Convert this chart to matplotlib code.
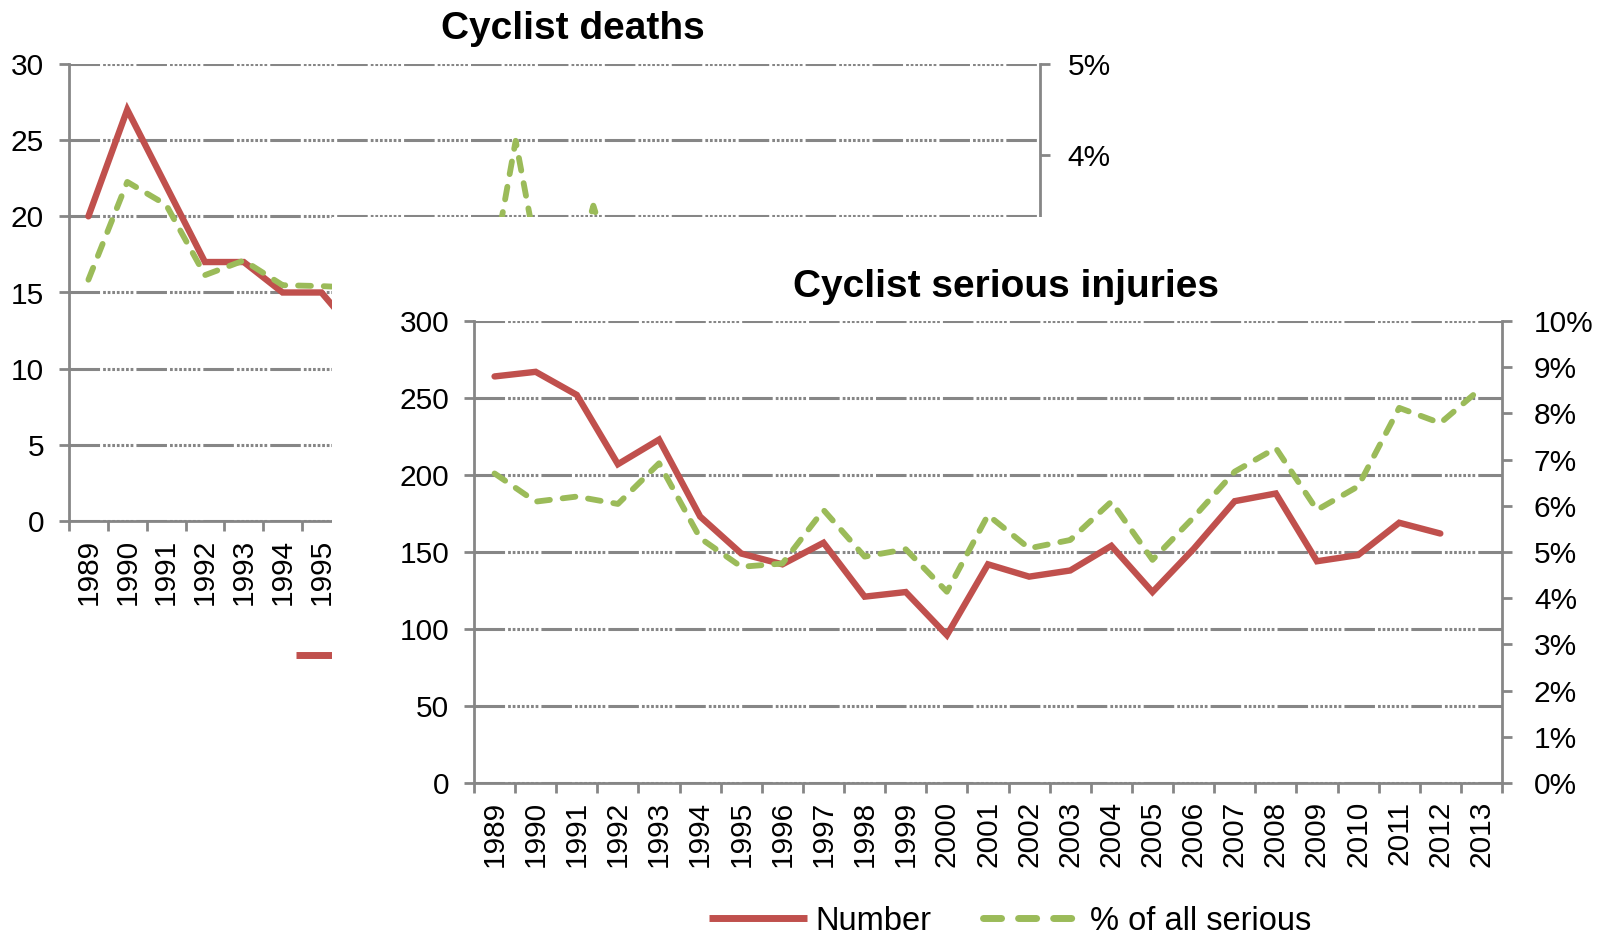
import numpy as np
import matplotlib
matplotlib.use('Agg')
import matplotlib.pyplot as plt
from matplotlib.lines import Line2D
from matplotlib.patches import Rectangle
from matplotlib.ticker import FuncFormatter, MultipleLocator

plt.rcParams['font.family'] = ['Liberation Sans', 'DejaVu Sans']

# categories
years = ['1989', '1990', '1991', '1992', '1993', '1994', '1995', '1996', '1997',
         '1998', '1999', '2000', '2001', '2002', '2003', '2004', '2005', '2006',
         '2007', '2008', '2009', '2010', '2011', '2012', '2013']

# cyclist deaths (back chart, mostly hidden behind the front chart)
deaths = [20, 27, 22, 17, 17, 15, 15, 12] + [np.nan] * 17
deaths_pct = [2.64, 3.71, 3.46, 2.69, 2.85, 2.58, 2.57, 2.55, 2.4, 2.2, 1.8,
              4.16, 1.9, 3.45, 2.1] + [np.nan] * 10
deaths_visible_years = 7  # labels after 1995 sit behind the front chart

# cyclist serious injuries (front chart)
injuries = [264, 267, 252, 207, 223, 173, 149, 142, 156, 121, 124, 96, 142,
            134, 138, 154, 124, 152, 183, 188, 144, 148, 169, 162, np.nan]
injuries_pct = [6.70, 6.09, 6.20, 6.04, 6.92, 5.30, 4.68, 4.75, 5.91, 4.90,
                5.06, 4.14, 5.80, 5.08, 5.26, 6.09, 4.83, 5.75, 6.74, 7.25,
                5.91, 6.42, 8.12, 7.79, 8.55]

RED = '#C0504D'
GREEN = '#9BBB59'
GREY = '#868686'
W, H = 1610, 938
FS = 21.5
GRID_LS = (0, (10, 1.0, 0.9, 0.6, 0.9, 0.6, 0.9, 0.6, 0.9, 0.6,
               0.9, 0.6, 0.9, 0.6, 0.9, 1.0))


def box(l, t, r, b):
    return [l / W, 1 - b / H, (r - l) / W, (b - t) / H]


def style_chart(ax, axr, ymax, ystep, pmax, rpad, labels):
    x = np.arange(len(years))
    ax.set_xlim(-0.5, len(years) - 0.5)
    ax.set_ylim(0, ymax)
    axr.set_ylim(0, pmax)
    ax.yaxis.set_major_locator(MultipleLocator(ystep))
    axr.yaxis.set_major_locator(MultipleLocator(1))
    axr.yaxis.set_major_formatter(FuncFormatter(lambda v, p: f'{v:.0f}%'))
    ax.set_xticks(x)
    ax.set_xticklabels(labels, rotation=90)
    ax.set_xticks(np.arange(len(years) + 1) - 0.5, minor=True)
    ax.tick_params(axis='x', which='major', length=0, pad=13, labelsize=FS)
    ax.tick_params(axis='x', which='minor', length=7, width=2, color=GREY)
    ax.tick_params(axis='y', length=7, width=2, color=GREY, pad=11, labelsize=FS)
    axr.tick_params(axis='y', length=7, width=2, color=GREY, pad=rpad, labelsize=FS)
    ax.yaxis.grid(True, color=GREY, lw=2.2, linestyle=GRID_LS)
    ax.set_axisbelow(True)
    for s in ['top', 'right']:
        ax.spines[s].set_visible(False)
    for s in ['top', 'left', 'bottom']:
        axr.spines[s].set_visible(False)
    for s in ['left', 'bottom']:
        ax.spines[s].set_color(GREY)
        ax.spines[s].set_linewidth(2)
    axr.spines['right'].set_color(GREY)
    axr.spines['right'].set_linewidth(2)


def draw_lines(ax, axr, num, pct):
    x = np.arange(len(years))
    ax.plot(x, num, color=RED, lw=4.6, solid_capstyle='round', solid_joinstyle='miter')
    axr.plot(x, pct, color=GREEN, lw=4.2, dashes=(2.2, 2.2), dash_capstyle='round')


def add_legend(fig, cx, cy, z):
    handles = [Line2D([], [], color=RED, lw=5, solid_capstyle='butt'),
               Line2D([], [], color=GREEN, lw=5, dashes=(2.6, 2.45), dash_capstyle='round')]
    leg = fig.legend(handles, ['Number', '% of all serious'], loc='center',
                     bbox_to_anchor=(cx / W, 1 - cy / H), ncol=2, frameon=False,
                     fontsize=23.5, handlelength=3, handletextpad=0.25,
                     columnspacing=1.6, borderaxespad=0, borderpad=0.1)
    leg.set_zorder(z)
    return leg


fig = plt.figure(figsize=(W / 100, H / 100), dpi=100)

# back chart: cyclist deaths
ax1 = fig.add_axes(box(69, 64, 1040, 521))
ax1r = ax1.twinx()
ax1.set_zorder(1)
ax1r.set_zorder(1.1)
draw_lines(ax1, ax1r, deaths, deaths_pct)
back_labels = years[:deaths_visible_years] + [''] * (len(years) - deaths_visible_years)
style_chart(ax1, ax1r, 30, 5, 5, 13, back_labels)
fig.text(573 / W, 1 - 29 / H, 'Cyclist deaths', ha='center', va='center',
         fontsize=28, fontweight='bold', zorder=1.2)
back_leg = add_legend(fig, 597, 658, 1.3)
for t in back_leg.get_texts():
    t.set_visible(False)  # covered by the front chart

# white panel of the front chart covering most of the back chart
fig.add_artist(Rectangle((332 / W, 0), 1 - 332 / W, 1 - 217 / H,
                         transform=fig.transFigure, facecolor='white',
                         edgecolor='none', zorder=2))

# front chart: cyclist serious injuries
ax2 = fig.add_axes(box(474, 321, 1502, 783))
ax2r = ax2.twinx()
ax2.set_zorder(3)
ax2r.set_zorder(3.1)
draw_lines(ax2, ax2r, injuries, injuries_pct)
style_chart(ax2, ax2r, 300, 50, 10, 16, years)
fig.text(1006 / W, 1 - 287 / H, 'Cyclist serious injuries', ha='center',
         va='center', fontsize=28, fontweight='bold', zorder=4)
add_legend(fig, 1010, 921, 4)

fig.savefig('out.png', dpi=100)
